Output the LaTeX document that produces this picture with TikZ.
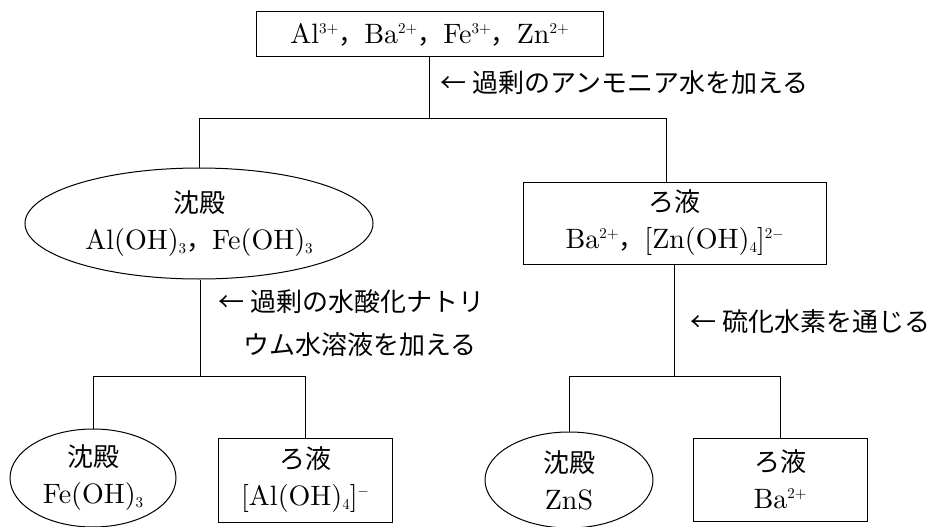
\documentclass[tikz,border=0pt]{standalone}
\usepackage{fontspec}
\setmainfont{lmroman10-regular.otf}
\newfontfamily\cjk{Noto Sans CJK JP}
\usetikzlibrary{shapes.geometric,calc}
\newcommand\jp[1]{{\cjk\fontsize{26}{36}\selectfont #1}}
\newcommand\upx[1]{\raisebox{10pt}{\fontsize{15}{15}\selectfont #1}}
\newcommand\dnx[1]{\raisebox{-4pt}{\fontsize{15}{15}\selectfont #1}}
\newcommand\cm{{\cjk\fontsize{26}{36}\selectfont ，}}
\begin{document}
\begin{tikzpicture}[x=1pt,y=1pt,line width=1pt,
  font=\fontsize{28}{37}\selectfont,
  boxn/.style={draw,rectangle,inner sep=0pt,align=center},
  elln/.style={draw,ellipse,inner sep=0pt,align=center},
  lbl/.style={anchor=west,inner sep=0pt}]
\useasboundingbox (0,0) rectangle (935,-527);
\node[boxn,minimum width=347,minimum height=45] (top) at (429.5,-34.5)
  {Al\upx{3+}\cm Ba\upx{2+}\cm Fe\upx{3+}\cm Zn\upx{2+}};
\node[elln,minimum width=348,minimum height=111] (ell1) at (199,-223.5)
  {\jp{沈殿}\\Al(OH)\dnx{3}\cm Fe(OH)\dnx{3}};
\node[boxn,minimum width=303,minimum height=82] (box2) at (674.5,-223)
  {\jp{ろ液}\\Ba\upx{2+}\cm {[}Zn(OH)\dnx{4}]\upx{2$-$}};
\node[elln,minimum width=166,minimum height=98] (ell3) at (93,-478)
  {\jp{沈殿}\\Fe(OH)\dnx{3}};
\node[boxn,minimum width=174,minimum height=84] (box4) at (305,-480)
  {\jp{ろ液}\\{[}Al(OH)\dnx{4}]\upx{$-$}};
\node[elln,minimum width=168,minimum height=96] (ell5) at (569,-480)
  {\jp{沈殿}\\ZnS};
\node[boxn,minimum width=174,minimum height=83] (box6) at (780,-479.5)
  {\jp{ろ液}\\Ba\upx{2+}};
% junctions
\coordinate (j1) at ($(top.south)+(0,-61)$);
\coordinate (b2in) at ($(box2.north)+(-8.5,0)$);
\coordinate (j2) at ($(ell1.south)+(1,-97)$);
\coordinate (e1out) at ($(ell1.south)+(1,0)$);
\coordinate (j3) at ($(box2.south)+(0,-112)$);
\draw (top.south) -- (j1);
\draw (ell1.north) |- (j1) -| (b2in);
\draw (e1out) -- (j2);
\draw (ell3.north) |- (j2) -| (box4.north);
\draw (box2.south) -- (j3);
\draw (ell5.north) |- (j3) -| (box6.north);
% labels
\node[lbl] (l1) at (440,-83) {\jp{← 過剰のアンモニア水を加える}};
\node[lbl] (l2) at (218,-302) {\jp{← 過剰の水酸化ナトリ}};
\node[lbl] (l3) at (243,-345) {\jp{ウム水溶液を加える}};
\node[lbl] (l4) at (690,-322) {\jp{← 硫化水素を通じる}};
\end{tikzpicture}
\end{document}
